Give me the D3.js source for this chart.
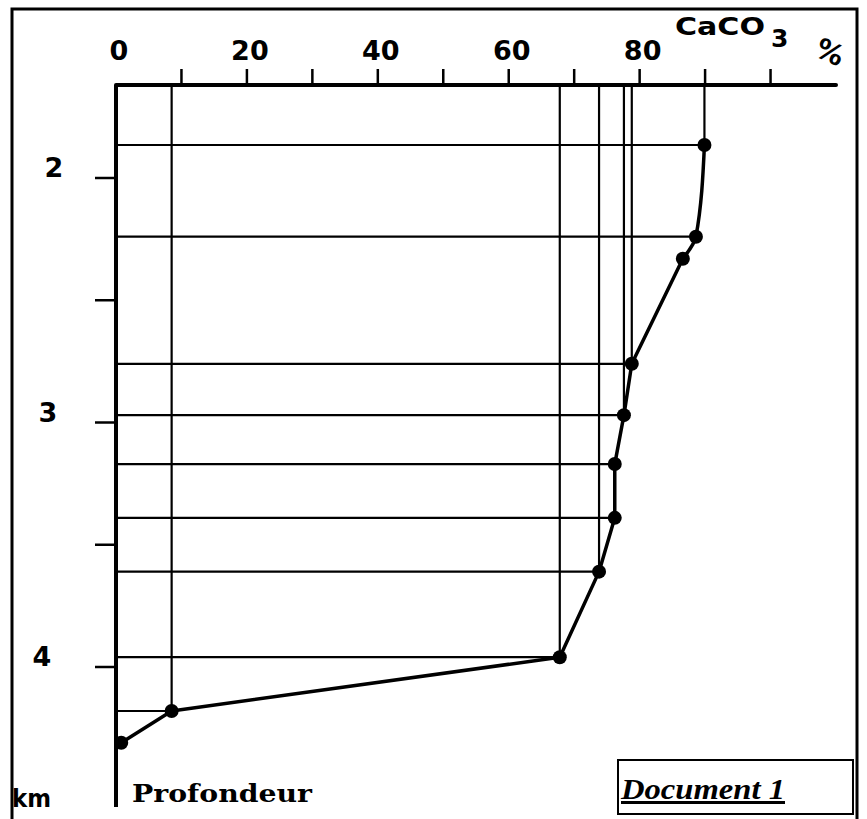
<!DOCTYPE html>
<html lang="fr">
<head>
    <meta charset="UTF-8">
    <title>Document 1 - CaCO3 / Profondeur</title>
    <script src="https://d3js.org/d3.v7.min.js"></script>
    <style>
        body { margin: 0; background: white; }
        svg { display: block; }
    </style>
</head>
<body>
<div id="chart"></div>
<script>
    // CaCO3 content (%) against depth (km)
    var caco3 = [89.9, 88.6, 86.6, 78.8, 77.6, 76.2, 76.2, 73.8, 67.8, 8.5, 0.8];
    var depth = [1.865, 2.24, 2.33, 2.76, 2.97, 3.17, 3.39, 3.61, 3.96, 4.18, 4.31];
    // which points get a horizontal line to the depth axis / a vertical line up to the % axis
    var hasHLine = [true, true, false, true, true, true, true, true, true, true, false];
    var hasVLine = [true, false, false, true, true, false, false, true, true, true, false];

    var xTicks = [10, 20, 30, 40, 50, 60, 70, 80, 90, 100];
    var xTickLabels = [0, 20, 40, 60, 80];
    var yTicks = [2, 2.5, 3, 3.5, 4];
    var yTickLabels = [2, 3, 4];

    var width = 867, height = 819;

    var svg = d3.select("#chart").append("svg")
        .attr("width", width)
        .attr("height", height);

    // scales
    var x = d3.scaleLinear().domain([0, 110]).range([116, 836]);
    var y = d3.scaleLinear().domain([2, 4]).range([178, 667]);
    var yTop = y.invert(85), yBottom = y.invert(807);

    // outer frame
    svg.append("rect")
        .attr("x", 12).attr("y", 9)
        .attr("width", 845).attr("height", 830)
        .attr("fill", "none")
        .attr("stroke", "black")
        .attr("stroke-width", 3);

    var data = caco3.map((v, i) => ({ v: v, d: depth[i], h: hasHLine[i], vl: hasVLine[i] }));

    // horizontal reference lines
    svg.selectAll(".hline")
        .data(data.filter(p => p.h))
        .enter().append("line")
        .attr("x1", x(0)).attr("x2", p => x(p.v))
        .attr("y1", p => y(p.d)).attr("y2", p => y(p.d))
        .attr("stroke", "black").attr("stroke-width", 2.2);

    // vertical reference lines
    svg.selectAll(".vline")
        .data(data.filter(p => p.vl))
        .enter().append("line")
        .attr("x1", p => x(p.v)).attr("x2", p => x(p.v))
        .attr("y1", y(yTop)).attr("y2", p => y(p.d))
        .attr("stroke", "black").attr("stroke-width", 2.2);

    // top axis (CaCO3 %)
    svg.append("line")
        .attr("x1", x(0)).attr("x2", x(110))
        .attr("y1", y(yTop)).attr("y2", y(yTop))
        .attr("stroke", "black").attr("stroke-width", 4)
        .attr("stroke-linecap", "round");

    svg.selectAll(".xtick")
        .data(xTicks)
        .enter().append("line")
        .attr("x1", d => x(d)).attr("x2", d => x(d))
        .attr("y1", y(yTop)).attr("y2", y(yTop) - 16)
        .attr("stroke", "black").attr("stroke-width", 2.5);

    svg.selectAll(".xlabel")
        .data(xTickLabels)
        .enter().append("text")
        .attr("x", d => x(d) + 3)
        .attr("y", 60)
        .attr("text-anchor", "middle")
        .style("font-family", "'DejaVu Sans', sans-serif")
        .style("font-weight", "bold")
        .style("font-size", "27px")
        .text(d => d);

    // CaCO3 % title
    svg.append("text")
        .attr("x", 675).attr("y", 35)
        .attr("textLength", 90)
        .attr("lengthAdjust", "spacingAndGlyphs")
        .style("font-family", "'DejaVu Sans', sans-serif")
        .style("font-weight", "bold")
        .style("font-size", "24px")
        .text("CaCO");
    svg.append("text")
        .attr("x", 771).attr("y", 47)
        .style("font-family", "'DejaVu Sans', sans-serif")
        .style("font-weight", "bold")
        .style("font-size", "25px")
        .text("3");
    svg.append("text")
        .attr("transform", "translate(830,52) rotate(25)")
        .attr("text-anchor", "middle")
        .attr("dy", "0.35em")
        .style("font-family", "'DejaVu Sans', sans-serif")
        .style("font-weight", "bold")
        .style("font-size", "28px")
        .text("%");

    // left axis (depth)
    svg.append("line")
        .attr("x1", x(0)).attr("x2", x(0))
        .attr("y1", y(yTop)).attr("y2", y(yBottom))
        .attr("stroke", "black").attr("stroke-width", 4);

    svg.selectAll(".ytick")
        .data(yTicks)
        .enter().append("line")
        .attr("x1", x(0) - 21).attr("x2", x(0))
        .attr("y1", d => y(d)).attr("y2", d => y(d))
        .attr("stroke", "black").attr("stroke-width", 2.5);

    svg.selectAll(".ylabel")
        .data(yTickLabels)
        .enter().append("text")
        .attr("x", d => 54 - (d - 2) * 6)
        .attr("y", d => y(d) - 1)
        .attr("text-anchor", "middle")
        .style("font-family", "'DejaVu Sans', sans-serif")
        .style("font-weight", "bold")
        .style("font-size", "27px")
        .text(d => d);

    svg.append("text")
        .attr("x", 12).attr("y", 807)
        .attr("textLength", 39)
        .attr("lengthAdjust", "spacingAndGlyphs")
        .style("font-family", "'DejaVu Sans', sans-serif")
        .style("font-weight", "bold")
        .style("font-size", "25px")
        .text("km");

    svg.append("text")
        .attr("x", 132).attr("y", 802)
        .attr("textLength", 180)
        .attr("lengthAdjust", "spacingAndGlyphs")
        .style("font-family", "'DejaVu Serif', serif")
        .style("font-weight", "bold")
        .style("font-size", "25px")
        .text("Profondeur");

    // data curve: rounded at the top, straight segments below
    var smooth = d3.line()
        .x(p => x(p.v))
        .y(p => y(p.d))
        .curve(d3.curveMonotoneY);
    var straight = d3.line()
        .x(p => x(p.v))
        .y(p => y(p.d));

    svg.append("path")
        .datum(data.slice(0, 3))
        .attr("d", smooth)
        .attr("fill", "none")
        .attr("stroke", "black")
        .attr("stroke-width", 3.5);

    svg.append("path")
        .datum(data.slice(2))
        .attr("d", straight)
        .attr("fill", "none")
        .attr("stroke", "black")
        .attr("stroke-width", 3.5)
        .attr("stroke-linejoin", "round");

    svg.selectAll(".dot")
        .data(data)
        .enter().append("circle")
        .attr("cx", p => x(p.v))
        .attr("cy", p => y(p.d))
        .attr("r", 7)
        .attr("fill", "black");

    // "Document 1" box
    svg.append("rect")
        .attr("x", 618).attr("y", 760)
        .attr("width", 235).attr("height", 54)
        .attr("fill", "white")
        .attr("stroke", "black")
        .attr("stroke-width", 2);

    svg.append("text")
        .attr("x", 621).attr("y", 799)
        .attr("textLength", 164)
        .attr("lengthAdjust", "spacingAndGlyphs")
        .style("font-family", "'Liberation Serif', serif")
        .style("font-weight", "bold")
        .style("font-style", "italic")
        .style("font-size", "30px")
        .style("text-decoration", "underline")
        .text("Document 1");
</script>
</body>
</html>
